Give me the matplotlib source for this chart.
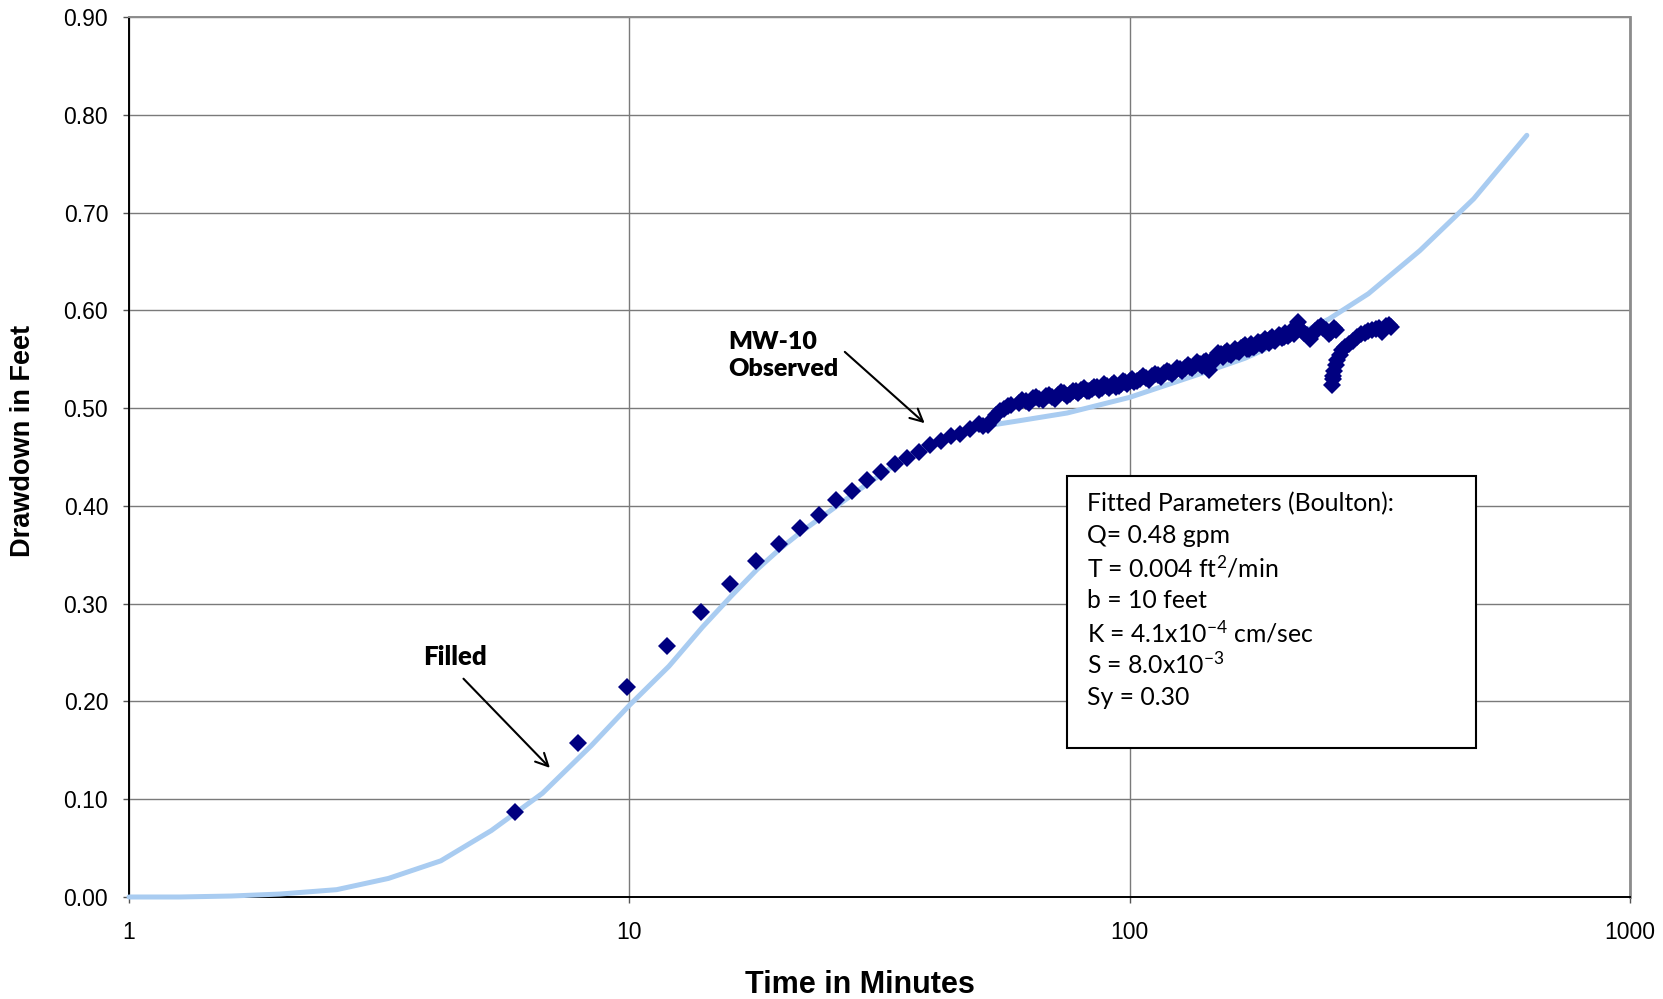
import matplotlib
matplotlib.use("Agg")
import matplotlib.pyplot as plt
from matplotlib.ticker import FixedLocator, FixedFormatter, NullLocator, FormatStrFormatter
from matplotlib.patches import Rectangle

plt.rcParams['font.family'] = ['Liberation Sans', 'DejaVu Sans']
plt.rcParams['mathtext.fontset'] = 'custom'
plt.rcParams['mathtext.rm'] = 'Lato'
plt.rcParams['mathtext.it'] = 'Lato:italic'
plt.rcParams['mathtext.bf'] = 'Lato:bold'

# ---- Fitted (Boulton) curve ----
fit_time = [1.0, 1.26, 1.6, 2.0, 2.6, 3.3, 4.2, 5.3, 6.7, 8.4, 10.0, 12.0, 14.0, 16.0,
            18.0, 20.0, 22.0, 26.0, 30.0, 34.0, 40.0, 46.0, 52.0, 60.0, 75.0, 100.0,
            140.0, 170.0, 210.0, 250.0, 300.0, 380.0, 487.0, 622.0]
fit_dd = [0.000, 0.000, 0.001, 0.003, 0.0075, 0.019, 0.037, 0.068, 0.106, 0.155, 0.196,
          0.236, 0.276, 0.308, 0.335, 0.356, 0.373, 0.400, 0.423, 0.442, 0.461, 0.474,
          0.482, 0.487, 0.495, 0.511, 0.536, 0.551, 0.572, 0.591, 0.617, 0.661, 0.714, 0.779]

# ---- MW-10 observed (pumping) ----
obs_time = [5.9, 7.9, 9.9, 11.9, 13.9, 15.9, 17.9, 19.9, 21.9, 23.9, 25.9, 27.9, 29.9,
            31.9, 33.9, 35.9, 37.9, 39.9, 41.9, 43.9, 45.9, 47.9, 49.9,
            51, 52, 53, 54, 55, 56, 57, 58, 60, 62, 64, 66, 68, 70, 72, 74, 76, 78, 80,
            82, 84, 86, 88, 90, 92, 94, 96, 98, 100, 102, 105, 108, 111, 114, 117, 120,
            123, 126, 129, 132, 135, 138, 141, 144, 146, 149, 152, 155, 158, 161, 164,
            167, 170, 173, 176, 179, 182, 185, 188, 191, 194, 197, 200, 203, 206, 209,
            212, 215, 217, 220, 223, 226, 229, 232, 235, 238, 241, 244, 247, 250, 253,
            256, 259,
            61, 63, 65, 67, 69, 71, 73, 75, 77, 79, 81, 83, 85, 87, 89, 91, 93, 95, 97,
            99, 101, 103.5, 106.5, 109.5, 112.5, 115.5, 118.5, 121.5, 124.5, 127.5,
            130.5, 133.5, 136.5, 139.5, 142, 147.5, 150.5, 153.5, 156.5, 159.5, 162.5,
            165.5, 168.5, 171.5, 174.5, 177.5, 180.5, 183.5, 186.5, 189.5, 192.5, 195.5,
            198.5, 201.5, 204.5, 207.5, 210.5, 213.5]
obs_dd = [0.087, 0.157, 0.215, 0.257, 0.291, 0.320, 0.344, 0.361, 0.377, 0.391, 0.406,
          0.415, 0.426, 0.435, 0.443, 0.449, 0.455, 0.462, 0.466, 0.471, 0.474, 0.479,
          0.484,
          0.482, 0.483, 0.488, 0.493, 0.497, 0.499, 0.502, 0.503, 0.505, 0.507, 0.510,
          0.509, 0.512, 0.511, 0.513, 0.515, 0.514, 0.517, 0.519, 0.518, 0.520, 0.522,
          0.521, 0.523, 0.524, 0.522, 0.525, 0.527, 0.528, 0.527, 0.530, 0.531, 0.533,
          0.534, 0.536, 0.537, 0.538, 0.540, 0.541, 0.542, 0.544, 0.545, 0.547, 0.539,
          0.549, 0.552, 0.555, 0.556, 0.555, 0.557, 0.558, 0.561, 0.565, 0.560, 0.563,
          0.565, 0.567, 0.568, 0.569, 0.571, 0.570, 0.572, 0.574, 0.573, 0.575, 0.576,
          0.578, 0.580, 0.588, 0.580, 0.577, 0.575, 0.571, 0.576, 0.579, 0.582, 0.584,
          0.582, 0.580, 0.576, 0.578, 0.582, 0.580,
          0.508, 0.505, 0.511, 0.508, 0.513, 0.509, 0.516, 0.512, 0.518, 0.515, 0.521,
          0.517, 0.522, 0.519, 0.525, 0.521, 0.526, 0.523, 0.528, 0.525, 0.530, 0.528,
          0.533, 0.529, 0.535, 0.532, 0.538, 0.535, 0.541, 0.538, 0.544, 0.541, 0.547,
          0.543, 0.548, 0.548, 0.556, 0.552, 0.558, 0.554, 0.560, 0.557, 0.563, 0.560,
          0.566, 0.562, 0.568, 0.565, 0.571, 0.567, 0.573, 0.569, 0.575, 0.572, 0.577,
          0.574, 0.579, 0.576]

# ---- MW-10 observed (after the drop) ----
rec_time = [253.4, 254.5, 255.5, 256.5, 258, 260, 263, 266, 270, 275, 280, 285, 290,
            295, 300, 305, 310, 315, 320, 325, 330, 333]
rec_dd = [0.524, 0.530, 0.533, 0.538, 0.544, 0.549, 0.554, 0.559, 0.563, 0.566, 0.569,
          0.573, 0.576, 0.577, 0.579, 0.580, 0.581, 0.582, 0.578, 0.584, 0.585, 0.583]

x_ticks = [1, 10, 100, 1000]
x_labels = ["1", "10", "100", "1000"]
y_ticks = [0.0, 0.1, 0.2, 0.3, 0.4, 0.5, 0.6, 0.7, 0.8, 0.9]

params_lines = [
    "Fitted Parameters (Boulton):",
    "Q= 0.48 gpm",
    r"T = 0.004 ft$^{2}$/min",
    "b = 10 feet",
    r"K = 4.1x10$^{-4}$ cm/sec",
    r"S = 8.0x10$^{-3}$",
    "Sy = 0.30",
]

fig = plt.figure(figsize=(16.63, 9.99), dpi=100)
ax = fig.add_axes([129/1663, 1 - 897/999, 1501/1663, 880/999])

ax.set_xscale('log')
ax.set_xlim(1, 1000)
ax.set_ylim(0, 0.9)

ax.plot(fit_time, fit_dd, color='#A9CCF1', lw=3.6, solid_capstyle='round', zorder=3,
        clip_on=False)
for tt, dd in [(obs_time, obs_dd), (rec_time, rec_dd)]:
    ax.plot(tt, dd, linestyle='none', marker='D', markersize=9.2,
            color='#000080', markeredgewidth=0, zorder=4)

ax.xaxis.set_major_locator(FixedLocator(x_ticks))
ax.xaxis.set_major_formatter(FixedFormatter(x_labels))
ax.xaxis.set_minor_locator(NullLocator())
ax.yaxis.set_major_locator(FixedLocator(y_ticks))
ax.yaxis.set_major_formatter(FormatStrFormatter('%.2f'))

ax.grid(True, which='major', color='#7a7a7a', lw=1.0)
ax.set_axisbelow(True)
for s in ['left', 'bottom']:
    ax.spines[s].set_color('black')
    ax.spines[s].set_linewidth(1.4)
ax.spines['right'].set_color('#8c8c8c')
ax.spines['right'].set_linewidth(2.0)
ax.spines['top'].set_color('#8c8c8c')
ax.spines['top'].set_linewidth(1.4)

ax.tick_params(axis='y', direction='out', length=4, width=1, color='#555555',
               labelsize=16.5, pad=11)
ax.tick_params(axis='x', direction='out', length=4, width=1, color='#555555',
               labelsize=16.5, pad=13)

ax.set_xlabel("Time in Minutes", fontsize=22, fontweight='bold')
ax.xaxis.set_label_coords((860 - 129) / 1501, (897 - 985) / 880, transform=ax.transAxes)
ax.xaxis.label.set_va('center')
ax.set_ylabel("Drawdown in Feet", fontsize=19.5, fontweight='bold')
ax.yaxis.set_label_coords((23.3 - 129) / 1501, 0.518, transform=ax.transAxes)
ax.yaxis.label.set_va('center')

# annotations
ax.annotate("", xy=(39.3, 0.4827), xytext=(26.7, 0.5594),
            arrowprops=dict(arrowstyle='->,head_length=0.9,head_width=0.45',
                            color='black', lw=1.5), zorder=6)
ax.text(15.8, 0.5535, "MW-10\nObserved", ha='left', va='center', fontsize=18,
        fontweight='heavy', family=['Lato', 'DejaVu Sans'], linespacing=1.3, zorder=6)
ax.annotate("", xy=(7.0, 0.130), xytext=(4.62, 0.2253),
            arrowprops=dict(arrowstyle='->,head_length=0.9,head_width=0.45',
                            color='black', lw=1.5), zorder=6)
ax.text(3.87, 0.2454, "Filled", ha='left', va='center', fontsize=18.5,
        fontweight='heavy', family=['Lato', 'DejaVu Sans'], zorder=6)

# parameter box
box = Rectangle((0.625, 0.1693), 0.2724, 0.3091, transform=ax.transAxes,
                facecolor='white', edgecolor='black', lw=1.5, zorder=5)
ax.add_patch(box)
for i, line in enumerate(params_lines):
    ax.text(0.638, 0.4474 - i * 0.0367, line, transform=ax.transAxes, ha='left',
            va='center', fontsize=17.8, family=['Lato', 'DejaVu Sans'], zorder=6)

fig.savefig("out.png", dpi=100)
